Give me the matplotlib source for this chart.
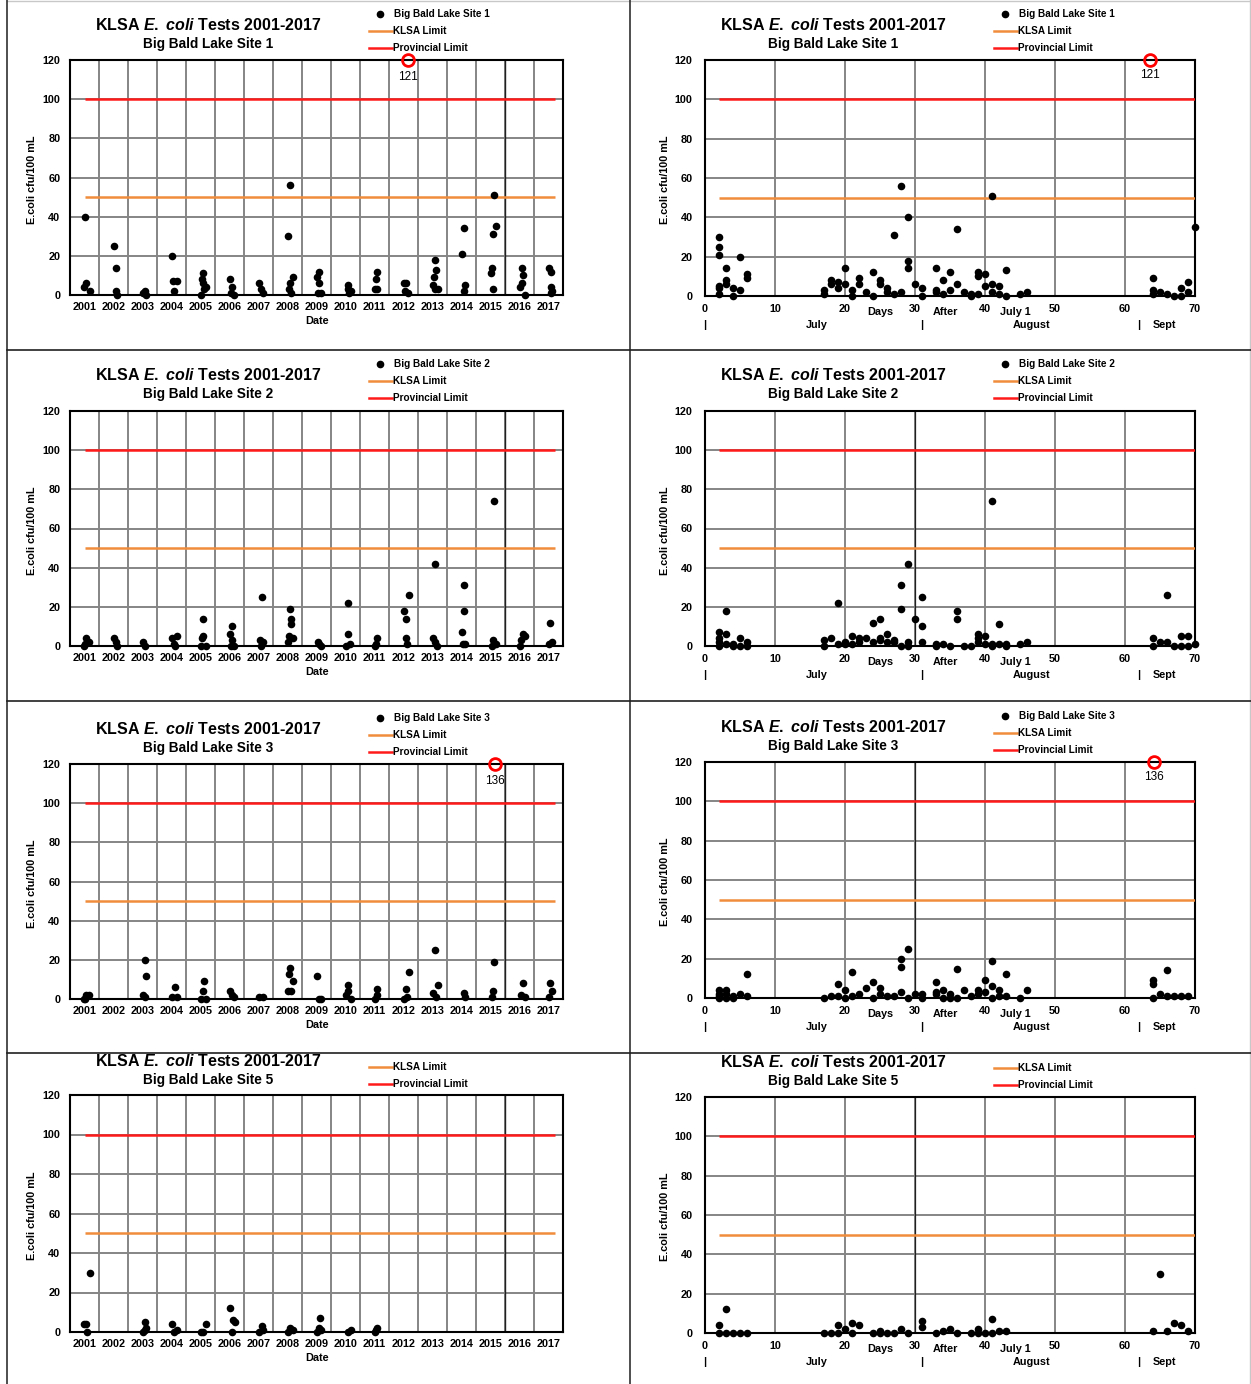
"""
KLSA E. coli tests 2001-2017, Big Bald Lake sites 1, 2, 3 and 5
left column: by year, right column: by days after July 1
"""

import matplotlib
matplotlib.use("Agg")
import matplotlib.pyplot as plt
from matplotlib.lines import Line2D
import numpy as np

plt.rcParams['font.family'] = ['Liberation Sans', 'DejaVu Sans']
plt.rcParams['mathtext.fontset'] = 'custom'
plt.rcParams['mathtext.it'] = 'Liberation Sans:italic:bold'
plt.rcParams['mathtext.rm'] = 'Liberation Sans:bold'

# ---------------- data ----------------
years = list(range(2001, 2018))
klsa_limit = 50
provincial_limit = 100

# site 1, by year (decimal year = sampling date)
s1_year_x = [2001.51, 2001.55, 2001.49, 2001.68, 2002.50, 2002.58, 2002.60, 2002.62,
             2003.51, 2003.57, 2003.62, 2004.51, 2004.55, 2004.68, 2004.58,
             2005.60, 2005.55, 2005.60, 2005.69, 2005.50, 2005.61, 2006.50, 2006.58, 2006.55, 2006.66,
             2007.53, 2007.60, 2007.66, 2008.50, 2008.57, 2008.68, 2008.58, 2008.55, 2008.62,
             2009.58, 2009.53, 2009.60, 2009.55, 2009.67, 2010.60, 2010.57, 2010.68, 2010.62,
             2011.60, 2011.55, 2011.51, 2011.60, 2012.50, 2012.58, 2012.55, 2012.64,
             2013.58, 2013.62, 2013.55, 2013.50, 2013.57, 2013.68, 2014.60, 2014.51, 2014.61, 2014.58,
             2015.62, 2015.69, 2015.58, 2015.55, 2015.53, 2015.60, 2016.59, 2016.62, 2016.58, 2016.52, 2016.69,
             2017.51, 2017.57, 2017.58, 2017.62, 2017.60]
s1_year_v = [40, 6, 4, 2, 25, 14, 2, 0,
             1, 2, 0, 20, 7, 7, 2,
             11, 8, 6, 4, 0, 3, 8, 4, 1, 0,
             6, 3, 1, 30, 56, 9, 6, 3, 1,
             12, 9, 6, 1, 1, 5, 3, 2, 1,
             12, 8, 3, 3, 6, 6, 2, 1,
             18, 13, 9, 5, 3, 3, 34, 21, 5, 2,
             51, 35, 31, 14, 11, 3, 14, 10, 6, 4, 0,
             14, 12, 4, 2, 1]
s1_year_over = (2012.65, 121)

# site 2, by year
s2_year_x = [2001.48, 2001.55, 2001.65, 2001.53, 2002.51, 2002.58, 2002.62, 2003.53, 2003.58,
             2004.51, 2004.68, 2004.58, 2004.62, 2005.57, 2005.60, 2005.55, 2005.50, 2005.69,
             2006.58, 2006.50, 2006.58, 2006.66, 2006.55, 2007.61, 2007.54, 2007.67, 2007.60,
             2008.60, 2008.61, 2008.62, 2008.55, 2008.69, 2008.50, 2009.54, 2009.58, 2009.67,
             2010.57, 2010.60, 2010.65, 2010.53, 2011.60, 2011.54, 2011.50,
             2012.50, 2012.57, 2012.68, 2012.57, 2012.61, 2013.58, 2013.50, 2013.57, 2013.67,
             2014.57, 2014.60, 2014.51, 2014.55, 2014.61, 2015.62, 2015.58, 2015.69, 2015.55,
             2016.61, 2016.69, 2016.55, 2016.52, 2017.55, 2017.62, 2017.50]
s2_year_v = [0, 4, 2, 1, 4, 2, 0, 2, 0,
             4, 5, 1, 0, 14, 5, 4, 0, 0,
             10, 6, 3, 0, 0, 25, 3, 2, 0,
             19, 14, 11, 5, 4, 2, 2, 1, 0,
             22, 6, 1, 0, 4, 1, 0,
             18, 14, 26, 4, 1, 42, 4, 2, 0,
             31, 18, 7, 1, 1, 74, 3, 1, 0,
             6, 5, 3, 0, 12, 2, 1]

# site 3, by year (no 2002 samples)
s3_year_x = [2001.48, 2001.54, 2001.65, 2001.53, 2003.58, 2003.62, 2003.51, 2003.57,
             2004.62, 2004.51, 2004.68, 2005.61, 2005.60, 2005.50, 2005.69,
             2006.50, 2006.58, 2006.66, 2007.53, 2007.66,
             2008.58, 2008.55, 2008.69, 2008.50, 2008.62, 2009.53, 2009.58, 2009.67,
             2010.57, 2010.60, 2010.53, 2010.68, 2011.57, 2011.60, 2011.50,
             2012.68, 2012.57, 2012.50, 2012.61, 2013.58, 2013.68, 2013.50, 2013.61,
             2014.57, 2014.61, 2015.62, 2015.58, 2015.55, 2016.61, 2016.55, 2016.68,
             2017.55, 2017.62, 2017.50]
s3_year_v = [0, 2, 2, 0, 20, 12, 2, 1,
             6, 1, 1, 9, 4, 0, 0,
             4, 2, 1, 1, 1,
             16, 13, 9, 4, 4, 12, 0, 0,
             7, 4, 2, 0, 5, 2, 0,
             14, 5, 0, 1, 25, 7, 3, 1,
             3, 1, 19, 4, 1, 8, 2, 1,
             8, 4, 1]
s3_year_over = (2015.66, 136)

# site 5, by year (2001-2011 only)
s5_year_x = [2001.48, 2001.55, 2001.58, 2001.68, 2003.57, 2003.62, 2003.51, 2003.58,
             2004.53, 2004.68, 2004.58, 2005.69, 2005.50, 2005.60,
             2006.50, 2006.61, 2006.69, 2006.58, 2007.61, 2007.66, 2007.53,
             2008.60, 2008.68, 2008.50, 2009.61, 2009.57, 2009.67, 2009.53,
             2010.70, 2010.57, 2011.60, 2011.55, 2011.50]
s5_year_v = [4, 4, 0, 30, 5, 2, 0, 1,
             4, 1, 0, 4, 0, 0,
             12, 6, 5, 0, 3, 1, 0,
             2, 1, 0, 7, 2, 1, 0,
             1, 0, 2, 1, 0]

# site 1, by days after July 1 (all years pooled)
s1_day_x = [2, 2, 2, 2, 2, 2, 3, 3, 3, 4, 4, 5, 5, 6, 6,
            17, 17, 18, 18, 19, 19, 20, 20, 21, 21, 22, 22, 23, 24, 24, 25, 25, 26, 26,
            27, 27, 28, 28, 29, 29, 29, 30, 31, 31,
            33, 33, 33, 34, 34, 35, 35, 36, 36, 37, 38, 38, 39, 39, 39, 40, 40,
            41, 41, 41, 42, 42, 43, 43, 45, 46,
            64, 64, 64, 65, 66, 67, 68, 68, 69, 69, 70]
s1_day_v = [30, 25, 21, 4, 1, 5, 14, 8, 6, 4, 0, 20, 3, 11, 9,
            3, 1, 8, 6, 7, 4, 14, 6, 3, 0, 9, 6, 2, 12, 0, 8, 6, 4, 2,
            31, 1, 56, 2, 40, 18, 14, 6, 4, 0,
            14, 3, 2, 8, 1, 12, 3, 34, 6, 2, 1, 0, 12, 10, 1, 11, 5,
            51, 6, 2, 5, 1, 13, 0, 1, 2,
            9, 3, 1, 2, 1, 0, 4, 0, 7, 2, 35]
s1_day_over = (63.6, 121)

# site 2, by days after July 1
s2_day_x = [2, 2, 2, 2, 3, 3, 3, 4, 4, 5, 5, 6, 6,
            17, 17, 18, 19, 19, 20, 20, 21, 21, 22, 22, 23, 24, 24, 25, 25, 25, 26, 26,
            27, 27, 28, 28, 28, 29, 29, 29, 30, 31, 31, 31,
            33, 33, 34, 35, 36, 36, 37, 38, 39, 39, 39, 40, 40, 41, 41, 41, 42, 42, 43, 43, 45, 46,
            64, 64, 65, 66, 66, 67, 68, 68, 69, 69, 70]
s2_day_v = [7, 4, 2, 0, 18, 6, 1, 0, 1, 4, 0, 2, 0,
            3, 0, 4, 22, 1, 2, 1, 5, 1, 4, 2, 4, 12, 2, 14, 4, 3, 6, 2,
            3, 2, 31, 19, 0, 42, 2, 0, 14, 25, 10, 2,
            1, 0, 1, 0, 18, 14, 0, 0, 6, 4, 2, 5, 1, 74, 1, 0, 11, 1, 1, 0, 1, 2,
            4, 0, 2, 26, 2, 0, 5, 0, 5, 0, 1]

# site 3, by days after July 1
s3_day_x = [2, 2, 2, 2, 3, 3, 3, 4, 4, 5, 6, 6,
            17, 18, 19, 19, 20, 20, 21, 21, 22, 23, 24, 24, 25, 25, 26, 27,
            28, 28, 28, 29, 29, 30, 31, 31,
            33, 33, 33, 34, 34, 35, 35, 36, 36, 37, 38, 39, 39, 40, 40, 41, 41, 41, 42, 42, 43, 43, 45, 46,
            64, 64, 64, 65, 66, 66, 67, 68, 69]
s3_day_v = [4, 2, 0, 1, 4, 2, 0, 1, 0, 2, 12, 1,
            0, 1, 7, 1, 4, 0, 13, 1, 2, 5, 8, 0, 5, 2, 1, 1,
            20, 16, 3, 25, 0, 2, 2, 0,
            8, 3, 2, 4, 0, 2, 0, 15, 0, 4, 1, 4, 2, 9, 3, 19, 6, 0, 4, 1, 12, 1, 0, 4,
            9, 7, 0, 2, 14, 1, 1, 1, 1]
s3_day_over = (64.2, 136)

# site 5, by days after July 1
s5_day_x = [2, 2, 3, 3, 4, 5, 6,
            17, 18, 19, 19, 20, 21, 21, 22, 24, 25, 25, 26, 27, 28, 29, 31, 31,
            33, 34, 35, 36, 38, 39, 39, 40, 41, 41, 42, 43,
            64, 65, 66, 67, 68, 69]
s5_day_v = [4, 0, 12, 0, 0, 0, 0,
            0, 0, 4, 0, 2, 5, 0, 4, 0, 1, 0, 0, 0, 2, 0, 6, 3,
            0, 1, 2, 0, 0, 2, 0, 0, 7, 0, 1, 1,
            1, 30, 1, 5, 4, 1]

# ---------------- figure ----------------
W, H = 1251, 1384
fig = plt.figure(figsize=(W / 100, H / 100), dpi=100)


def px_box(x0, y0, x1, y1):
    return [x0 / W, 1 - y1 / H, (x1 - x0) / W, (y1 - y0) / H]


def ftext(x, y, s, **kw):
    fig.text(x / W, 1 - y / H, s, **kw)


def fline(xs, ys, **kw):
    fig.add_artist(Line2D([x / W for x in xs], [1 - y / H for y in ys], **kw))


ORANGE = '#f08c3c'
RED = '#ff1a1a'
GRID = '#858585'


def base_axes(box):
    ax = fig.add_axes(px_box(*box))
    ax.set_ylim(0, 120)
    ax.set_yticks(range(0, 121, 20))
    ax.grid(axis='y', color=GRID, lw=1.4)
    ax.set_axisbelow(True)
    for sp in ax.spines.values():
        sp.set_linewidth(1.5)
        sp.set_color('black')
    ax.tick_params(length=0, labelsize=7.8)
    for lab in ax.get_yticklabels() + ax.get_xticklabels():
        lab.set_fontweight('bold')
    return ax


def headers(cx, ro, site, first_entry=True):
    # titles
    ftext(cx, 25 + ro, r'KLSA $\mathit{E.}$ $\mathit{coli}$ Tests 2001-2017', ha='center', va='center',
          fontsize=11.5, fontweight='bold')
    ftext(cx, 44 + ro, 'Big Bald Lake Site %d' % site, ha='center', va='center',
          fontsize=9.8, fontweight='bold')
    # legend
    lx = cx + 161
    if first_entry:
        fig.add_artist(Line2D([(lx + 11) / W], [1 - (14 + ro) / H], marker='o', color='black',
                              ms=4.5, ls='none'))
        ftext(lx + 25, 14 + ro, 'Big Bald Lake Site %d' % site, va='center', fontsize=7.2,
              fontweight='bold')
    fline([lx, lx + 23], [31 + ro, 31 + ro], color=ORANGE, lw=1.8)
    ftext(lx + 24, 31 + ro, 'KLSA Limit', va='center', fontsize=7.2, fontweight='bold')
    fline([lx, lx + 23], [48 + ro, 48 + ro], color=RED, lw=1.8)
    ftext(lx + 24, 48 + ro, 'Provincial Limit', va='center', fontsize=7.2, fontweight='bold')


def mark_over(ax, over, dy):
    x, v = over
    ax.plot([x], [120], 'o', mfc='none', mec='red', ms=8.5, mew=2, clip_on=False, zorder=6)
    ax.annotate(str(v), (x, 120), xytext=(0, -dy), textcoords='offset points',
                ha='center', va='center', fontsize=8.5)


def year_panel(box, ro, site, xs, vs, over=None, first_entry=True):
    ax = base_axes(box)
    ax.set_xlim(2001, 2018)
    ax.set_xticks([y + 0.5 for y in years])
    ax.set_xticklabels([str(y) for y in years], fontweight='bold')
    ax.set_xticks(range(2001, 2019), minor=True)
    ax.tick_params(which='minor', length=0)
    ax.tick_params(axis='x', pad=5)
    ax.tick_params(axis='y', pad=7)
    ax.grid(axis='x', which='minor', color=GRID, lw=1.4)
    ax.axvline(2016, color='#202020', lw=1.0, zorder=1)
    ax.hlines([provincial_limit], 2001.51, 2017.74, color=RED, lw=1.8, zorder=3)
    ax.hlines([klsa_limit], 2001.51, 2017.74, color=ORANGE, lw=1.8, zorder=3)
    ax.scatter(xs, vs, s=30, color='black', zorder=5, clip_on=False, linewidths=0)
    if over is not None:
        mark_over(ax, over, 12.5)
    ftext(32, (box[1] + box[3]) / 2 + 2, 'E.coli cfu/100 mL', rotation=90, ha='center', va='center',
          fontsize=7.8, fontweight='bold')
    ftext(317, box[3] + 26, 'Date', ha='center', va='center', fontsize=7.8, fontweight='bold')
    headers(208, ro, site, first_entry)
    return ax


def day_panel(box, ro, site, xs, vs, over=None, first_entry=True, dark30=True):
    ax = base_axes(box)
    ax.set_xlim(0, 70)
    ax.set_xticks(range(0, 71, 10))
    ax.set_xticklabels([str(d) for d in range(0, 71, 10)], fontweight='bold')
    ax.tick_params(axis='x', pad=6)
    ax.tick_params(axis='y', pad=9)
    ax.grid(axis='x', color=GRID, lw=1.4)
    if dark30:
        ax.axvline(30, color='#202020', lw=0.9, zorder=1)
    ax.hlines([provincial_limit], 2, 70, color=RED, lw=1.8, zorder=3)
    ax.hlines([klsa_limit], 2, 70, color=ORANGE, lw=1.8, zorder=3)
    ax.scatter(xs, vs, s=30, color='black', zorder=5, clip_on=False, linewidths=0)
    if over is not None:
        mark_over(ax, over, 10.5)
    # extra axis captions
    row1 = [(25, 'Days'), (34.4, 'After'), (44.3, 'July 1')]
    row2 = [(0, '|'), (15.9, 'July'), (30.9, '|'), (46.7, 'August'), (61.9, '|'), (65.7, 'Sept')]
    for x, s in row1:
        ax.annotate(s, (x, 0), xycoords=('data', 'axes fraction'), xytext=(0, -11.5),
                    textcoords='offset points', ha='center', va='center', fontsize=7.8,
                    fontweight='bold')
    for x, s in row2:
        ax.annotate(s, (x, 0), xycoords=('data', 'axes fraction'), xytext=(0, -21),
                    textcoords='offset points', ha='center', va='center', fontsize=7.8,
                    fontweight='bold')
    ftext(665, (box[1] + box[3]) / 2 + 2, 'E.coli cfu/100 mL', rotation=90, ha='center', va='center',
          fontsize=7.8, fontweight='bold')
    headers(833, ro, site, first_entry)
    return ax


year_panel((70, 60, 563, 295), 0, 1, s1_year_x, s1_year_v, over=s1_year_over)
day_panel((705, 60, 1195, 296), 0, 1, s1_day_x, s1_day_v, over=s1_day_over, dark30=False)

year_panel((70, 411, 563, 646), 350, 2, s2_year_x, s2_year_v)
day_panel((705, 411, 1195, 646), 350, 2, s2_day_x, s2_day_v)

year_panel((70, 764, 563, 999), 704, 3, s3_year_x, s3_year_v, over=s3_year_over)
day_panel((705, 762, 1195, 998), 702, 3, s3_day_x, s3_day_v, over=s3_day_over)

year_panel((70, 1095, 563, 1332), 1036, 5, s5_year_x, s5_year_v, first_entry=False)
day_panel((705, 1097, 1195, 1333), 1037, 5, s5_day_x, s5_day_v, first_entry=False)

# table cell borders
fline([7, 1251], [1, 1], color='#c8c8c8', lw=1.0)
fline([7, 7], [0, 1384], color='#303030', lw=1.2)
fline([630, 630], [0, 1384], color='#303030', lw=1.2)
fline([1250, 1250], [0, 1384], color='#c8c8c8', lw=1.0)
for y in [350, 701, 1053]:
    fline([7, 1251], [y, y], color='#202020', lw=1.2)

fig.savefig('out.png', dpi=100)
